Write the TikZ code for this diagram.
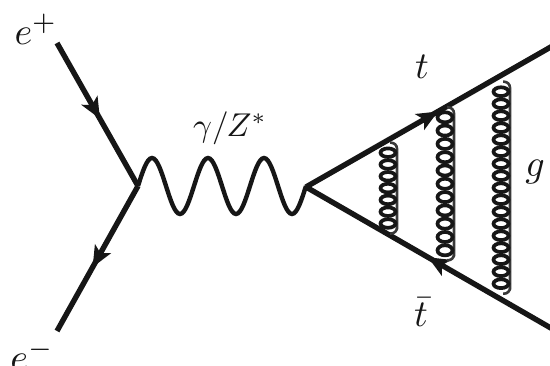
\documentclass[tikz,border=0pt]{standalone}
\usepackage{amsmath}
\usetikzlibrary{arrows.meta, decorations.markings}
\definecolor{fInk}{RGB}{22,22,22}

\begin{document}
\begin{tikzpicture}[
  x=1pt, y=-1pt,
  label/.style={inner sep=0pt, color=fInk, scale=#1, transform shape},
  label/.default=3.8,
  fermion/.style={line width=5.4pt, color=fInk, postaction={decorate},
    decoration={markings, mark=at position #1 with {\arrow{Stealth[length=21pt, width=18pt, inset=5pt]}}}},
  photon/.style={line width=4.4pt, color=fInk},
  gluonring/.style={line width=3.7pt, color=fInk},
  gluonback/.style={line width=2.6pt, color=fInk!85, rounded corners=6pt}
]
  \useasboundingbox (0,0) rectangle (550,366);
  \coordinate (eplus) at (57,43);
  \coordinate (eminus) at (57,331);
  \coordinate (vee) at (138,186);
  \coordinate (vtt) at (306,187);
  \coordinate (tend) at (556,44);
  \coordinate (tbarend) at (556,331);
  % fermion lines
  \draw[fermion=0.53] (eplus) -- (vee);
  \draw[fermion=0.56] (vee) -- (eminus);
  \draw[fermion=0.528] (vtt) -- (tend);
  \draw[fermion=0.512] (tbarend) -- (vtt);
  % boson lines
  \draw[photon] (vee) \foreach \i in {1,2,3} {sin ++(14,-28) cos ++(14,28) sin ++(14,28) cos ++(14,-28)};
  \foreach \gname/\gx/\gy/\gn/\gd in {gA/388/152.7/6/11.8, gB/445/117.3/10/13.3, gC/501/91.7/16/12} {
    \pgfmathsetmacro{\gry}{(\gd-3.2)/2}
    \pgfmathsetmacro{\gylast}{\gy+\gn*\gd}
    \coordinate (\gname top) at (\gx+2,\gy-10);
    \coordinate (\gname bot) at (\gx+2,\gylast+10);
    \draw[gluonback] (\gname top) -| (\gx+9,\gylast) |- (\gname bot);
    \foreach \k in {0,...,\gn}
      \draw[gluonring] (\gx,\gy+\k*\gd) ellipse [x radius=7.5pt, y radius=\gry pt];
  }
  % labels
  \node[label] (lepos) at (36,29) {$e^+$};
  \node[label] (leneg) at (32,355) {$e^-$};
  \node[label=3.3] (lboson) at (230,128) {$\gamma/Z^*$};
  \node[label] (ltop) at (422,67) {$t$};
  \node[label] (lbar) at (421,312) {$\bar{t}$};
  \node[label] (lglu) at (535,172) {$g$};
\end{tikzpicture}
\end{document}
